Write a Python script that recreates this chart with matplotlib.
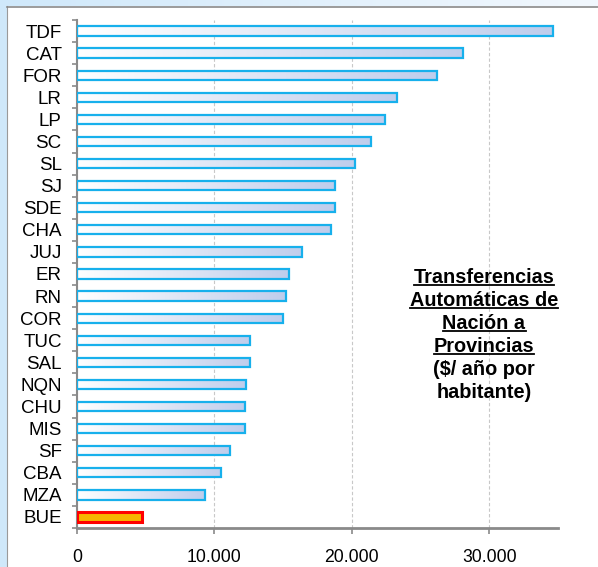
import numpy as np
import matplotlib.pyplot as plt
from matplotlib.patches import Rectangle
from matplotlib.colors import LinearSegmentedColormap

plt.rcParams['font.family'] = ['Liberation Sans', 'DejaVu Sans']

# Transferencias automaticas por provincia ($/ año por habitante)
provincias = ['TDF', 'CAT', 'FOR', 'LR', 'LP', 'SC', 'SL', 'SJ', 'SDE', 'CHA',
              'JUJ', 'ER', 'RN', 'COR', 'TUC', 'SAL', 'NQN', 'CHU', 'MIS',
              'SF', 'CBA', 'MZA', 'BUE']
valores = [34600, 28100, 26200, 23300, 22400, 21400, 20200, 18800, 18750, 18450,
           16400, 15400, 15200, 15000, 12600, 12600, 12300, 12250, 12200,
           11100, 10450, 9300, 4750]
destacada = 'BUE'
xticks = [0, 10000, 20000, 30000]
xlabels = ['0', '10.000', '20.000', '30.000']
titulo = ['Transferencias', 'Automáticas de', 'Nación a', 'Provincias',
          '($/ año por', 'habitante)']
subrayado = [True, True, True, True, False, False]

fig = plt.figure(figsize=(5.98, 5.67), dpi=100)
fig.patch.set_facecolor('white')

# marco celeste arriba e izquierda
W, H = 598, 567
fig.patches.append(Rectangle((0, 0), 7 / W, 1, transform=fig.transFigure,
                             facecolor='#cfe8fa', edgecolor='none', zorder=0))
grad_ax = fig.add_axes([0, 1 - 6 / H, 1, 6 / H], zorder=0)
grad_ax.imshow(np.linspace(0, 1, 200).reshape(1, -1), aspect='auto',
               cmap=LinearSegmentedColormap.from_list('b', ['#cfe8fa', '#f2f8fe']),
               extent=[0, 1, 0, 1])
grad_ax.axis('off')
fig.add_artist(plt.Line2D([7 / W, 7 / W], [0, 1 - 6 / H], color='#9a9a9a', lw=0.8,
                          transform=fig.transFigure))
fig.add_artist(plt.Line2D([7 / W, 1], [1 - 6.5 / H, 1 - 6.5 / H], color='#8a8a8a', lw=1.2,
                          transform=fig.transFigure))

ax = fig.add_axes([77 / W, 1 - 528 / H, (558 - 77) / W, (528 - 20) / H])

cmap = LinearSegmentedColormap.from_list('barra', ['#ffffff', '#bfcdec'])
grad = np.linspace(0, 1, 256).reshape(1, -1)
h = 0.42
for i, (p, v) in enumerate(zip(provincias, valores)):
    if p == destacada:
        ax.barh(i, v, height=h, color='#f6b400', edgecolor='#ff0000', linewidth=2.2, zorder=3)
    else:
        ax.imshow(grad, aspect='auto', cmap=cmap, extent=[0, v, i + h / 2, i - h / 2],
                  zorder=2, interpolation='bilinear')
        ax.barh(i, v, height=h, color='none', edgecolor='#17b0ec', linewidth=1.6, zorder=3)

ax.set_xlim(0, 35000)
ax.set_ylim(len(provincias) - 0.5, -0.5)
ax.set_yticks(range(len(provincias)))
ax.set_yticklabels(provincias, fontsize=13.5)
ax.set_yticks(np.arange(-0.5, len(provincias), 1), minor=True)
ax.tick_params(axis='y', which='major', length=0, pad=11)
ax.tick_params(axis='y', which='minor', length=3.8, width=1.2, color='#8a8a8a')
ax.set_xticks(xticks)
ax.set_xticklabels(xlabels, fontsize=12.7)
ax.tick_params(axis='x', length=4, width=1.2, color='#8a8a8a', pad=11)

for s in ['top', 'right']:
    ax.spines[s].set_visible(False)
ax.spines['left'].set_color('#8a8a8a')
ax.spines['left'].set_linewidth(1.5)
ax.spines['bottom'].set_color('#8a8a8a')
ax.spines['bottom'].set_linewidth(2)
ax.grid(axis='x', color='#c8c8c8', linestyle=(0, (3, 2)), linewidth=0.8, zorder=0)
ax.set_axisbelow(True)

# cuadro de texto con subrayado
fig.canvas.draw()
renderer = fig.canvas.get_renderer()
for k, (linea, sub) in enumerate(zip(titulo, subrayado)):
    yy = 1 - (283 + k * 23) / H
    t = fig.text(484 / W, yy, linea, ha='center', va='baseline', fontsize=14.3,
                 fontweight='bold', color='black')
    if sub:
        bb = t.get_window_extent(renderer).transformed(fig.transFigure.inverted())
        fig.add_artist(plt.Line2D([bb.x0, bb.x1], [yy - 2 / H, yy - 2 / H],
                                  color='black', lw=1.3, transform=fig.transFigure))

fig.savefig('out.png', dpi=100)
